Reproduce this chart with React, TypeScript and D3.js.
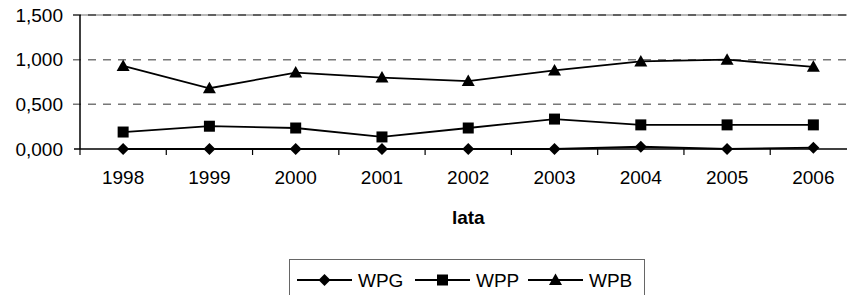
import React, { useEffect, useRef } from 'react';
import * as d3 from 'd3';

// data
const years = ['1998', '1999', '2000', '2001', '2002', '2003', '2004', '2005', '2006'];
const wpg = [0.0, 0.0, 0.0, 0.0, 0.0, 0.0, 0.025, 0.0, 0.015];
const wpp = [0.19, 0.255, 0.235, 0.135, 0.235, 0.335, 0.27, 0.27, 0.27];
const wpb = [0.93, 0.68, 0.855, 0.8, 0.76, 0.88, 0.98, 1.0, 0.92];
const seriesNames = ['WPG', 'WPP', 'WPB'];
const yTicks = [0, 0.5, 1.0, 1.5];

const FONT = '"Liberation Sans", Arial, sans-serif';

function markerPath(kind: string, cx: number, cy: number) {
  if (kind === 'WPG') {
    return `M${cx},${cy - 6}L${cx + 6},${cy}L${cx},${cy + 6}L${cx - 6},${cy}Z`;
  }
  if (kind === 'WPP') {
    return `M${cx - 5.5},${cy - 5.5}h11v11h-11Z`;
  }
  return `M${cx},${cy - 6.5}L${cx + 6.5},${cy + 5}L${cx - 6.5},${cy + 5}Z`;
}

export default function App() {
  const svgRef = useRef<SVGSVGElement>(null);

  useEffect(() => {
    const svg = d3.select(svgRef.current);
    svg.selectAll('*').remove();

    const width = 847;
    const height = 295;
    const left = 80;
    const right = 856.5;

    const x = d3.scaleBand().domain(years).range([left, right]);
    const y = d3.scaleLinear().domain([0, 1.5]).range([149, 15]);
    const fmt = (v: number) => d3.format('.3f')(v).replace('.', ',');

    // gridlines
    yTicks.filter(t => t > 0).forEach(t => {
      if (t === 1.5) {
        svg.append('line')
          .attr('x1', 73).attr('x2', width)
          .attr('y1', y(t)).attr('y2', y(t))
          .attr('stroke', '#a0a0a0').attr('stroke-width', 1.5);
      }
      svg.append('line')
        .attr('x1', 73).attr('x2', width)
        .attr('y1', y(t)).attr('y2', y(t))
        .attr('stroke', t === 1.5 ? '#444' : '#777')
        .attr('stroke-width', 1.5)
        .attr('stroke-dasharray', '8,7');
    });

    // y axis
    svg.append('line')
      .attr('x1', left).attr('x2', left)
      .attr('y1', y(1.5)).attr('y2', y(0))
      .attr('stroke', '#000').attr('stroke-width', 1.5);
    svg.append('line')
      .attr('x1', 74).attr('x2', left)
      .attr('y1', y(0)).attr('y2', y(0))
      .attr('stroke', '#000').attr('stroke-width', 1.5);

    svg.append('g')
      .selectAll('text')
      .data(yTicks)
      .join('text')
      .attr('x', 63)
      .attr('y', d => y(d))
      .attr('dy', '0.35em')
      .attr('text-anchor', 'end')
      .attr('font-family', FONT)
      .attr('font-size', 19)
      .text(d => fmt(d));

    // x axis
    svg.append('line')
      .attr('x1', left).attr('x2', width)
      .attr('y1', y(0)).attr('y2', y(0))
      .attr('stroke', '#000').attr('stroke-width', 1.5);

    const bounds = years.map(yr => x(yr)!).concat([right]);
    svg.append('g')
      .selectAll('line')
      .data(bounds)
      .join('line')
      .attr('x1', d => d).attr('x2', d => d)
      .attr('y1', y(0)).attr('y2', y(0) + 6)
      .attr('stroke', '#000').attr('stroke-width', 1.2);

    svg.append('g')
      .selectAll('text')
      .data(years)
      .join('text')
      .attr('x', d => x(d)! + x.bandwidth() / 2)
      .attr('y', 184)
      .attr('text-anchor', 'middle')
      .attr('font-family', FONT)
      .attr('font-size', 19)
      .text(d => d);

    svg.append('text')
      .attr('x', (left + right) / 2)
      .attr('y', 224)
      .attr('text-anchor', 'middle')
      .attr('font-family', FONT)
      .attr('font-size', 19)
      .attr('font-weight', 'bold')
      .text('lata');

    // series
    const allSeries = [wpg, wpp, wpb];
    const line = d3.line<number>()
      .x((_, i) => x(years[i])! + x.bandwidth() / 2)
      .y(d => y(d));

    allSeries.forEach((vals, si) => {
      svg.append('path')
        .datum(vals)
        .attr('d', line)
        .attr('fill', 'none')
        .attr('stroke', '#000')
        .attr('stroke-width', 1.8);
      svg.append('g')
        .selectAll('path')
        .data(vals)
        .join('path')
        .attr('d', (d, i) => markerPath(seriesNames[si], x(years[i])! + x.bandwidth() / 2, y(d)))
        .attr('fill', '#000');
    });

    // legend
    const lg = svg.append('g');
    lg.append('rect')
      .attr('x', 289.5).attr('y', 259.5)
      .attr('width', 355).attr('height', 50)
      .attr('fill', '#fff')
      .attr('stroke', '#666').attr('stroke-width', 1);
    const itemX = [297, 415, 528];
    const ly = 280;
    seriesNames.forEach((name, i) => {
      const x0 = itemX[i];
      lg.append('line')
        .attr('x1', x0).attr('x2', x0 + 55)
        .attr('y1', ly).attr('y2', ly)
        .attr('stroke', '#000').attr('stroke-width', 1.8);
      lg.append('path')
        .attr('d', markerPath(name, x0 + 27.5, ly))
        .attr('fill', '#000');
      lg.append('text')
        .attr('x', x0 + 61)
        .attr('y', ly)
        .attr('dy', '0.35em')
        .attr('font-family', FONT)
        .attr('font-size', 19)
        .text(name);
    });
  }, []);

  return (
    <svg
      ref={svgRef}
      width={847}
      height={295}
      style={{ position: 'absolute', left: 0, top: 0, background: '#fff' }}
    />
  );
}
